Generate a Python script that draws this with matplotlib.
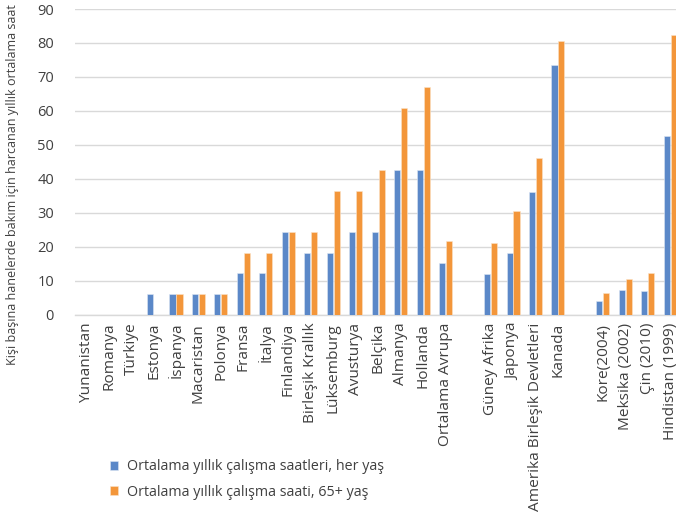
import matplotlib
matplotlib.use("Agg")
import matplotlib.pyplot as plt
import numpy as np

plt.rcParams['font.family'] = ['Open Sans', 'DejaVu Sans']

# Ülkeler ("" = gruplar arası boşluk)
ulkeler = ["Yunanistan", "Romanya", "Türkiye", "Estonya", "İspanya", "Macaristan",
           "Polonya", "Fransa", "İtalya", "Finlandiya", "Birleşik Krallık",
           "Lüksemburg", "Avusturya", "Belçika", "Almanya", "Hollanda",
           "Ortalama Avrupa", "", "Güney Afrika", "Japonya",
           "Amerika Birleşik Devletleri", "Kanada", "", "Kore(2004)",
           "Meksika (2002)", "Çin (2010)", "Hindistan (1999)"]

nan = np.nan
her_yas = [nan, nan, nan, 6.1, 6.1, 6.1, 6.1, 12.2, 12.2, 24.3, 18.2,
           18.2, 24.3, 24.3, 42.5, 42.5, 15.1, nan, 11.9, 18.2,
           36.0, 73.5, nan, 4.1, 7.2, 7.0, 52.5]
yas_65 = [nan, nan, nan, nan, 6.1, 6.1, 6.1, 18.2, 18.2, 24.3, 24.3,
          36.4, 36.4, 42.5, 60.8, 66.9, 21.7, nan, 21.0, 30.5,
          46.0, 80.6, nan, 6.2, 10.4, 12.2, 82.3]

seri_adlari = ["Ortalama yıllık çalışma saatleri, her yaş",
               "Ortalama yıllık çalışma saati, 65+ yaş"]

mavi = '#5B88C8'
turuncu = '#F3963A'
yazi = '#404040'

fig = plt.figure(figsize=(6.76, 5.19), dpi=100)
ax = fig.add_axes([0.1108, 0.394, 0.8974, 0.5886])

x = np.arange(len(ulkeler))
w = 0.27
b1 = ax.bar(x - 0.155, her_yas, w, color=mavi, edgecolor='#dde6f3',
            linewidth=0.4, label=seri_adlari[0], zorder=3)
b2 = ax.bar(x + 0.155, yas_65, w, color=turuncu, edgecolor='#fbe3c8',
            linewidth=0.4, label=seri_adlari[1], zorder=3)

ax.set_xlim(-0.5, len(ulkeler) - 0.5)
ax.set_ylim(0, 90)
ax.set_yticks(np.arange(0, 91, 10))
ax.yaxis.grid(True, color='#D9D9D9', linewidth=1)
ax.set_axisbelow(True)
for s in ['top', 'right', 'left']:
    ax.spines[s].set_visible(False)
ax.spines['bottom'].set_color('#D9D9D9')
ax.spines['bottom'].set_linewidth(1)

ax.set_xticks(x)
ax.set_xticklabels(ulkeler, rotation=90, fontsize=11.1, color=yazi)
ax.tick_params(axis='both', length=0, colors=yazi)
ax.tick_params(axis='y', labelsize=10.5, pad=15)
ax.tick_params(axis='x', pad=6)

fig.text(0.018, 0.645, "Kişi başına hanelerde bakım için harcanan yıllık ortalama saat",
         rotation=90, ha='center', va='center', fontsize=9.0, color=yazi)

leg = ax.legend(handles=[b1, b2], loc='upper left',
                bbox_to_anchor=(0.143, 0.14), bbox_transform=fig.transFigure,
                frameon=False, fontsize=10.3, handlelength=0.6, handleheight=0.6,
                handletextpad=0.6, labelspacing=0.75, labelcolor=yazi)

fig.savefig("out.png", dpi=100)
